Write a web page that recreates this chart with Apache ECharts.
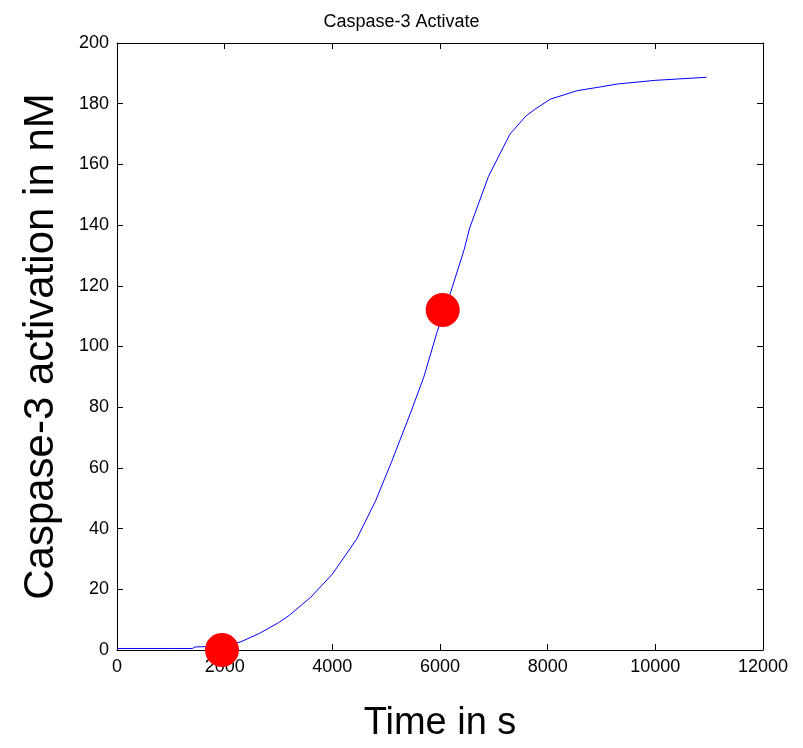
<!DOCTYPE html>
<html>
<head>
<meta charset="utf-8">
<script src="https://cdn.jsdelivr.net/npm/echarts@6/dist/echarts.min.js"></script>
<style>html,body{margin:0;padding:0;background:#fff}#c{width:803px;height:748px}</style>
</head>
<body>
<div id="c"></div>
<script>
var timeS = [0, 500, 1000, 1400, 1450, 2000, 2300, 2650, 3000, 3200, 3600, 4000, 4450, 4800, 5100, 5450, 5700, 5950, 6200, 6450, 6550, 6900, 7300, 7600, 7750, 8050, 8550, 9000, 9300, 10000, 10950];
var caspase = [0.5, 0.5, 0.5, 0.5, 1.0, 1.3, 2.7, 5.5, 9, 11.4, 17.4, 25, 36.5, 49, 62, 78, 90, 105, 118, 132, 139, 156, 170, 176, 178, 181.5, 184.3, 185.6, 186.5, 187.7, 188.7];
var markerT = [1950, 6050];
var markerV = [0, 112];
var xTicks = [0, 2000, 4000, 6000, 8000, 10000, 12000];
var yTicks = [0, 20, 40, 60, 80, 100, 120, 140, 160, 180, 200];

var font = 'Arial, "Liberation Sans", Helvetica, sans-serif';
var chart = echarts.init(document.getElementById('c'), null, {renderer: 'canvas'});
var lineData = timeS.map(function (t, i) { return [t, caspase[i]]; });
var markData = markerT.map(function (t, i) { return [t, markerV[i]]; });
var axisLine = {show: true, onZero: false, lineStyle: {color: '#000', width: 1}};
var tick = {show: true, inside: true, length: 6, lineStyle: {color: '#000', width: 1}};
chart.setOption({
  animation: false,
  backgroundColor: '#fff',
  title: {
    text: 'Caspase-3 Activate', left: 'center', top: 8,
    textStyle: {fontFamily: font, fontSize: 18, fontWeight: 'normal', color: '#000'}
  },
  grid: {left: 117, right: 40, top: 43, bottom: 93, containLabel: false},
  xAxis: [{
    type: 'value', min: 0, max: 12000, interval: 2000, position: 'bottom',
    axisLine: axisLine, axisTick: tick, splitLine: {show: false},
    axisLabel: {fontFamily: font, fontSize: 18, color: '#000', margin: 8,
      formatter: function (v) { return String(v); }},
    name: 'Time in s', nameLocation: 'middle', nameGap: 55,
    nameTextStyle: {fontFamily: font, fontSize: 38, color: '#000'}
  }, {
    type: 'value', min: 0, max: 12000, interval: 2000, position: 'top',
    axisLine: axisLine, axisTick: tick, splitLine: {show: false}, axisLabel: {show: false}
  }],
  yAxis: [{
    type: 'value', min: 0, max: 200, interval: 20, position: 'left',
    axisLine: axisLine, axisTick: tick, splitLine: {show: false},
    axisLabel: {fontFamily: font, fontSize: 18, color: '#000', margin: 8},
    name: 'Caspase-3 activation in nM', nameLocation: 'middle', nameGap: 55, nameRotate: 90,
    nameTextStyle: {fontFamily: font, fontSize: 42, color: '#000'}
  }, {
    type: 'value', min: 0, max: 200, interval: 20, position: 'right',
    axisLine: axisLine, axisTick: tick, splitLine: {show: false}, axisLabel: {show: false}
  }],
  series: [{
    type: 'line', data: lineData, showSymbol: false, smooth: false,
    lineStyle: {color: '#0000ff', width: 1}, z: 2
  }, {
    type: 'scatter', data: markData, symbol: 'circle', symbolSize: 34,
    itemStyle: {color: '#ff0000', opacity: 1}, z: 3
  }]
});
</script>
</body>
</html>
